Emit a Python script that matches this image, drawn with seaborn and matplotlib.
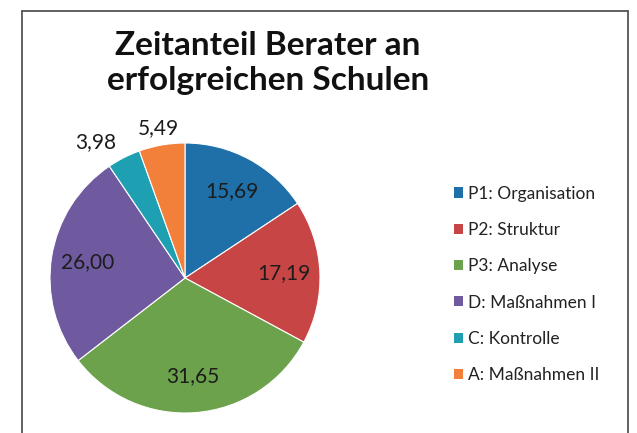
import matplotlib
matplotlib.use("Agg")
import matplotlib.pyplot as plt
import seaborn as sns
import numpy as np
from matplotlib.lines import Line2D
from matplotlib.patches import Patch

# Time share of the consultants at successful schools (percent)
categories = ["P1: Organisation", "P2: Struktur", "P3: Analyse",
              "D: Maßnahmen I", "C: Kontrolle", "A: Maßnahmen II"]
values = [15.69, 17.19, 31.65, 26.00, 3.98, 5.49]
colors = ["#1f6fa8", "#c74545", "#6ca24b", "#6f5a9f", "#1ea0b2", "#f2803a"]
title = "Zeitanteil Berater an\nerfolgreichen Schulen"

sns.set_theme(style="white")
plt.rcParams["font.family"] = ["Lato", "DejaVu Sans"]

W, H = 637, 433
fig = plt.figure(figsize=(W / 100, H / 100), dpi=100)
fig.patch.set_facecolor("white")

# pie axes: centre (185, 278) px, radius 135 px
cx, cy, r = 185, 278, 135
ax = fig.add_axes([(cx - r) / W, (H - cy - r) / H, 2 * r / W, 2 * r / H])
wedges, _ = ax.pie(values, colors=colors, startangle=90, counterclock=False,
                   radius=1.0, wedgeprops=dict(edgecolor="white", linewidth=0.8))
ax.set_xlim(-1, 1)
ax.set_ylim(-1, 1)
ax.set_aspect("equal")
ax.axis("off")

# value labels: inside for the large slices, outside for the small ones
outside = {4: (1.13, "right"), 5: (1.13, "center")}
for i, (w, v) in enumerate(zip(wedges, values)):
    ang = np.deg2rad((w.theta1 + w.theta2) / 2)
    d, ha = outside.get(i, (0.73, "center"))
    ax.text(d * np.cos(ang), d * np.sin(ang), f"{v:.2f}".replace(".", ","),
            ha=ha, va="center", fontsize=15, color="#1c1c1c",
            clip_on=False)

fig.text(268 / W, 1 - 63 / H, title, ha="center", va="center",
         fontsize=24, fontweight="bold", color="#111111", linespacing=1.25)

handles = [Patch(facecolor=c, edgecolor="none") for c in colors]
leg = fig.legend(handles, categories, loc="upper left",
                 bbox_to_anchor=(438 / W, 1 - 170 / H), frameon=False,
                 fontsize=12.5, handlelength=0.52, handleheight=0.52,
                 handletextpad=0.3, labelspacing=1.17)
for t in leg.get_texts():
    t.set_color("#222222")

# chart frame
fc = "#555555"
fig.add_artist(Line2D([22 / W, 22 / W], [0, 1 - 11 / H], color=fc, lw=1.3))
fig.add_artist(Line2D([628 / W, 628 / W], [0, 1 - 11 / H], color=fc, lw=1.3))
fig.add_artist(Line2D([22 / W, 628 / W], [1 - 11 / H, 1 - 11 / H], color=fc, lw=1.3))

fig.savefig("out.png", dpi=100, facecolor="white")
